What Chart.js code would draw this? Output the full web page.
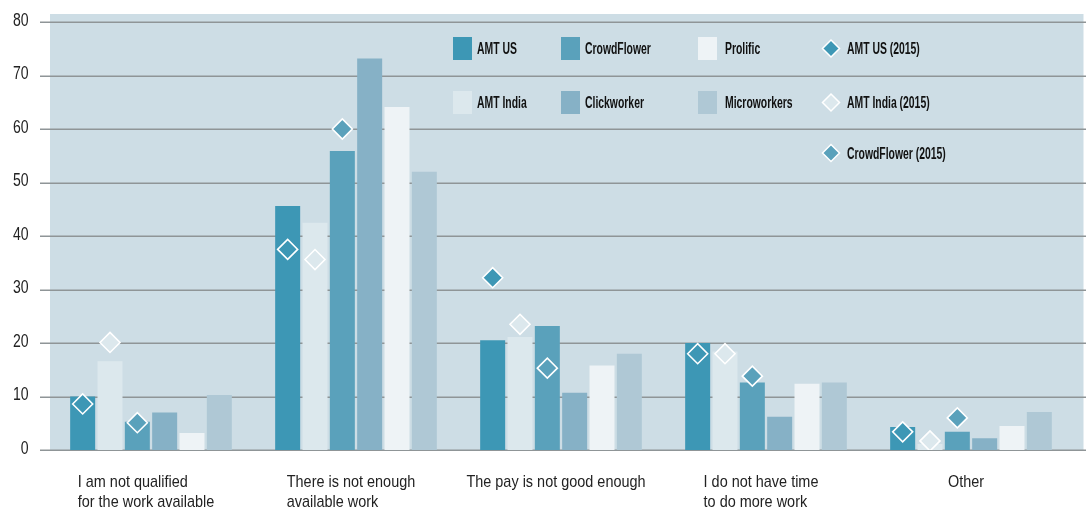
<!DOCTYPE html>
<html><head><meta charset="utf-8">
<script src="https://cdn.jsdelivr.net/npm/chart.js@4"></script>
<style>html,body{margin:0;padding:0;background:#fff}#wrap{width:1086px;height:510px}</style>
</head><body><div id="wrap"><canvas id="c" width="1086" height="510"></canvas></div>
<script>
// ---- data ----
const categories = [
  ['I am not qualified', 'for the work available'],
  ['There is not enough', 'available work'],
  ['The pay is not good enough'],
  ['I do not have time', 'to do more work'],
  ['Other']
];
const yTicks = [0, 10, 20, 30, 40, 50, 60, 70, 80];
const amtUS        = [10.0, 45.6, 20.5, 20.0, 4.3];
const amtIndia     = [16.6, 42.5, 21.1, 18.4, 1.1];
const crowdFlower  = [5.3, 55.9, 23.2, 12.6, 3.4];
const clickworker  = [7.0, 73.2, 10.7, 6.2, 2.2];
const prolific     = [3.2, 64.1, 15.8, 12.4, 4.5];
const microworkers = [10.3, 52.0, 18.0, 12.6, 7.1];
const amtUS2015       = [8.6, 37.5, 32.2, 18.0, 3.4];
const amtIndia2015    = [20.1, 35.6, 23.5, 18.0, 1.7];
const crowdFlower2015 = [5.1, 60.0, 15.3, 13.8, 6.0];

// ---- styles ----
const C = {
  amtUS: '#3d97b5', amtIndia: '#dce8ed', crowdFlower: '#5aa1bb',
  clickworker: '#86b1c6', prolific: '#eef3f6', microworkers: '#afc8d5',
  bg: '#cddde5', grid: '#8f9597', text: '#222'
};
const FONT = '"Liberation Sans", Arial, sans-serif';

function bar(label, data, color) {
  return { type: 'bar', label, data, backgroundColor: color, borderWidth: 0, order: 1 };
}
function diamond(label, data, color, linkTo) {
  return { type: 'line', label, data, showLine: false, linkTo,
    pointStyle: 'rectRot', pointRadius: 10, pointBorderColor: '#fff', pointBorderWidth: 1.6,
    pointBackgroundColor: color, backgroundColor: color, borderColor: '#fff', order: 0 };
}

const datasets = [
  bar('AMT US', amtUS, C.amtUS),
  bar('AMT India', amtIndia, C.amtIndia),
  bar('CrowdFlower', crowdFlower, C.crowdFlower),
  bar('Clickworker', clickworker, C.clickworker),
  bar('Prolific', prolific, C.prolific),
  bar('Microworkers', microworkers, C.microworkers),
  diamond('AMT US (2015)', amtUS2015, C.amtUS, 'AMT US'),
  diamond('AMT India (2015)', amtIndia2015, C.amtIndia, 'AMT India'),
  diamond('CrowdFlower (2015)', crowdFlower2015, C.crowdFlower, 'CrowdFlower')
];

// legend layout: [label, kind, color, col, row]
const legendItems = [
  ['AMT US', 'box', C.amtUS, 0, 0], ['CrowdFlower', 'box', C.crowdFlower, 1, 0],
  ['Prolific', 'box', C.prolific, 2, 0], ['AMT US (2015)', 'dia', C.amtUS, 3, 0],
  ['AMT India', 'box', C.amtIndia, 0, 1], ['Clickworker', 'box', C.clickworker, 1, 1],
  ['Microworkers', 'box', C.microworkers, 2, 1], ['AMT India (2015)', 'dia', C.amtIndia, 3, 1],
  ['CrowdFlower (2015)', 'dia', C.crowdFlower, 3, 2]
];
const legendColX = [453, 561, 698, 831];
const legendTextX = [477, 585, 725, 847];
const legendRowY = [48.5, 102.5, 153];

function squeezedText(ctx, text, x, y, sx, align) {
  ctx.save();
  ctx.translate(x, y);
  ctx.scale(sx, 1);
  ctx.textAlign = align || 'left';
  ctx.fillText(text, 0, 0);
  ctx.restore();
}

const alignDiamonds = {
  id: 'alignDiamonds',
  afterDatasetsUpdate(chart) {
    chart.data.datasets.forEach((ds, i) => {
      if (!ds.linkTo) return;
      const j = chart.data.datasets.findIndex(d => d.label === ds.linkTo);
      const bm = chart.getDatasetMeta(j), pm = chart.getDatasetMeta(i);
      pm.data.forEach((pt, k) => { pt.x = bm.data[k].x; });
    });
  }
};

const backdrop = {
  id: 'backdrop',
  beforeDatasetsDraw(chart) {
    const { ctx, chartArea: a, scales: { y } } = chart;
    ctx.save();
    ctx.fillStyle = C.bg;
    ctx.fillRect(a.left + 1.5, a.top - 8, chart.width - 2.5 - (a.left + 1.5), a.bottom - (a.top - 8));
    ctx.strokeStyle = C.grid;
    ctx.lineWidth = 1.5;
    yTicks.forEach(v => {
      const py = Math.round(y.getPixelForValue(v)) + 0.25;
      ctx.beginPath(); ctx.moveTo(a.left - 8.5, py); ctx.lineTo(chart.width, py); ctx.stroke();
    });
    ctx.restore();
  }
};

const labelsAndLegend = {
  id: 'labelsAndLegend',
  afterDraw(chart) {
    const { ctx, chartArea: a, scales: { x, y } } = chart;
    ctx.save();
    ctx.fillStyle = C.text;
    ctx.textBaseline = 'alphabetic';
    // y tick labels
    ctx.font = '18px ' + FONT;
    yTicks.forEach(v => {
      squeezedText(ctx, String(v), a.left - 20, y.getPixelForValue(v) + 3.5, 0.78, 'right');
    });
    // category labels: block centred, lines left aligned
    const sx = 0.85;
    ctx.font = '17px ' + FONT;
    categories.forEach((lines, i) => {
      const cx = x.getPixelForValue(i);
      const w = Math.max(...lines.map(l => ctx.measureText(l).width)) * sx;
      const left = cx - w / 2 - 5;
      lines.forEach((l, j) => squeezedText(ctx, l, left, a.bottom + 37 + j * 20, sx, 'left'));
    });
    // legend
    legendItems.forEach(([label, kind, color, col, row]) => {
      const cy = legendRowY[row];
      if (kind === 'box') {
        ctx.fillStyle = color;
        ctx.fillRect(legendColX[col], cy - 11.5, 19, 23);
      } else {
        const r = 8.5, cx = legendColX[col];
        ctx.beginPath();
        ctx.moveTo(cx, cy - r); ctx.lineTo(cx + r, cy); ctx.lineTo(cx, cy + r); ctx.lineTo(cx - r, cy); ctx.closePath();
        ctx.fillStyle = color; ctx.fill();
        ctx.strokeStyle = '#fff'; ctx.lineWidth = 1.5; ctx.stroke();
      }
      ctx.font = 'bold 16px ' + FONT;
      ctx.fillStyle = '#111';
      squeezedText(ctx, label, legendTextX[col], cy + 5.5, 0.65, 'left');
    });
    ctx.restore();
  }
};

new Chart(document.getElementById('c'), {
  data: { labels: categories, datasets },
  options: {
    responsive: false,
    animation: false,
    events: [],
    devicePixelRatio: 1,
    layout: { padding: { left: 0, right: 12.5, top: 22, bottom: 0 } },
    datasets: { bar: { categoryPercentage: 0.8, barPercentage: 0.915 } },
    plugins: { legend: { display: false }, tooltip: { enabled: false } },
    scales: {
      x: {
        grid: { display: false, drawTicks: false }, border: { display: false },
        ticks: { display: false },
        afterFit(s) { s.height = 60; }
      },
      y: {
        min: 0, max: 80,
        afterBuildTicks(s) { s.ticks = yTicks.map(v => ({ value: v })); },
        grid: { display: false, drawTicks: false }, border: { display: false },
        ticks: { display: false },
        afterFit(s) { s.width = 48.5; }
      }
    }
  },
  plugins: [alignDiamonds, backdrop, labelsAndLegend]
});
</script>
</body></html>
